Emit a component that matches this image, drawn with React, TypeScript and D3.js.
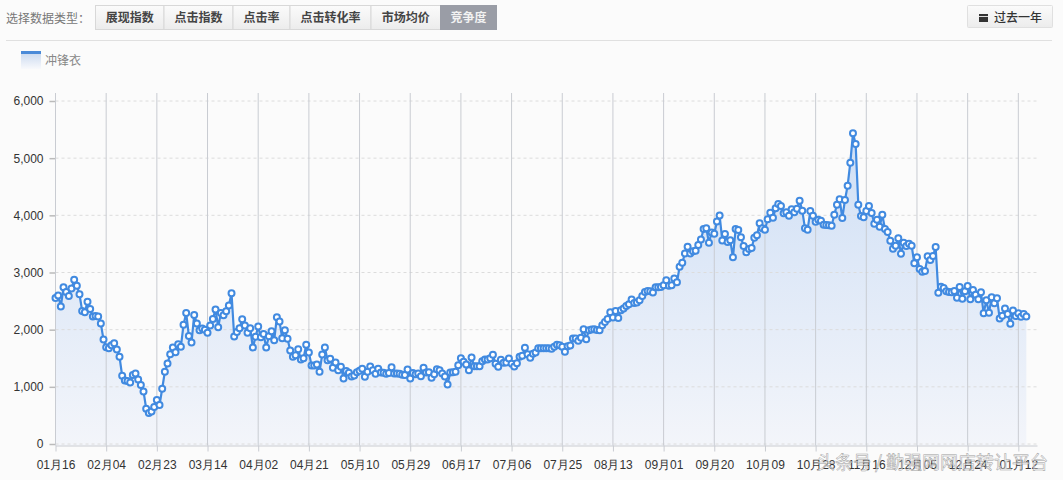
import { useEffect, useRef } from "react";
import * as d3 from "d3";

const tabs = ["展现指数", "点击指数", "点击率", "点击转化率", "市场均价", "竞争度"];
const tabEdges = [96, 164.5, 233.5, 290.5, 371.5, 441, 497];
const seriesName = "冲锋衣";
const yTicks = [0, 1000, 2000, 3000, 4000, 5000, 6000];
const xLabels = [
  "01月16", "02月04", "02月23", "03月14", "04月02", "04月21", "05月10",
  "05月29", "06月17", "07月06", "07月25", "08月13", "09月01", "09月20",
  "10月09", "10月28", "11月16", "12月05", "12月24", "01月12",
];
const labelStep = 19; // one label every 19 days

// daily values
const values = [
  2555, 2596, 2404, 2741, 2660, 2590, 2718, 2875, 2770, 2620,
  2328, 2305, 2490, 2363, 2229, 2240, 2229, 2107, 1827, 1694,
  1676, 1729, 1763, 1653, 1525, 1193, 1112, 1100, 1077, 1205,
  1234, 1129, 1030, 920, 617, 541, 570, 646, 768, 681,
  966, 1263, 1408, 1571, 1688, 1606, 1746, 1700, 2084, 2293,
  1891, 1775, 2258, 2107, 1990, 2020, 2000, 1944, 2072, 2188,
  2351, 2043, 2293, 2252, 2322, 2421, 2636, 1880, 1961, 2025,
  2182, 2072, 1944, 2025, 1688, 1874, 2054, 1868, 1926, 1688,
  1886, 1973, 1816, 2217, 2142, 1851, 1990, 1839, 1635, 1525,
  1554, 1659, 1478, 1500, 1734, 1600, 1373, 1373, 1390, 1263,
  1565, 1688, 1467, 1490, 1333, 1426, 1292, 1350, 1146, 1275,
  1245, 1181, 1199, 1257, 1280, 1315, 1176, 1263, 1356, 1292,
  1228, 1315, 1251, 1245, 1228, 1240, 1344, 1234, 1234, 1228,
  1210, 1205, 1304, 1146, 1240, 1222, 1234, 1187, 1333, 1251,
  1257, 1158, 1222, 1309, 1292, 1234, 1181, 1042, 1251, 1257,
  1263, 1379, 1501, 1437, 1390, 1292, 1513, 1362, 1362, 1362,
  1449, 1478, 1478, 1501, 1560, 1403, 1350, 1472, 1420, 1426,
  1496, 1403, 1356, 1414, 1525, 1542, 1682, 1571, 1507, 1577,
  1600, 1676, 1676, 1676, 1676, 1676, 1665, 1699, 1734, 1728,
  1699, 1612, 1711, 1722, 1845, 1845, 1804, 1857, 2008, 1833,
  1990, 2002, 2008, 1996, 1990, 2078, 2136, 2188, 2305, 2212,
  2328, 2206, 2340, 2369, 2415, 2444, 2526, 2468, 2474, 2514,
  2590, 2660, 2677, 2671, 2648, 2741, 2741, 2747, 2776, 2863,
  2770, 2776, 2893, 2828, 3100, 3170, 3334, 3450, 3334, 3370,
  3380, 3479, 3579, 3759, 3776, 3520, 3700, 3677, 3893, 3998,
  3561, 3674, 3534, 3563, 3265, 3761, 3743, 3615, 3464, 3353,
  3411, 3429, 3609, 3650, 3860, 3773, 3749, 3930, 4047, 3959,
  4122, 4198, 4163, 4035, 4052, 3994, 4105, 4052, 4117, 4257,
  4082, 3773, 3749, 4076, 3994, 3889, 3924, 3907, 3837, 3831,
  3825, 3819, 4012, 4187, 4280, 3953, 4268, 4519, 4921, 5434,
  5248, 4187, 3988, 3965, 4076, 4163, 4041, 3854, 3924, 3802,
  4012, 3761, 3708, 3557, 3417, 3470, 3598, 3330, 3522, 3464,
  3504, 3470, 3160, 3265, 3061, 3015, 3026, 3283, 3219, 3289,
  3446, 2647, 2752, 2729, 2671, 2659, 2653, 2677, 2560, 2747,
  2543, 2671, 2764, 2531, 2694, 2612, 2531, 2653, 2285, 2513,
  2297, 2566, 2460, 2548, 2197, 2243, 2372, 2272, 2103, 2337,
  2238, 2285, 2226, 2272, 2232,
];

const W = 1063;
const H = 480;
const CJK = "'Noto Sans CJK SC', sans-serif";
const LATIN = "'Liberation Sans', Arial, sans-serif";

export default function App() {
  const ref = useRef<SVGSVGElement>(null);

  useEffect(() => {
    if (!ref.current) return;
    const svg = d3.select(ref.current);
    svg.selectAll("*").remove();

    const x = d3.scaleLinear().domain([0, 368]).range([55.5, 1037]);
    const y = d3.scaleLinear().domain([0, 6000]).range([444, 101]);
    const top = 93;
    const bottom = 445.5;

    const defs = svg.append("defs");
    const areaGrad = defs.append("linearGradient").attr("id", "areaFill")
      .attr("gradientUnits", "userSpaceOnUse")
      .attr("x1", 0).attr("x2", 0).attr("y1", 134).attr("y2", bottom);
    areaGrad.append("stop").attr("offset", "0").attr("stop-color", "#cfdff5");
    areaGrad.append("stop").attr("offset", "1").attr("stop-color", "#f3f5fa");

    const btnGrad = defs.append("linearGradient").attr("id", "btnFill")
      .attr("x1", 0).attr("x2", 0).attr("y1", 0).attr("y2", 1);
    btnGrad.append("stop").attr("offset", "0").attr("stop-color", "#fbfbfb");
    btnGrad.append("stop").attr("offset", "1").attr("stop-color", "#ececec");

    const legendGrad = defs.append("linearGradient").attr("id", "legendFill")
      .attr("x1", 0).attr("x2", 0).attr("y1", 0).attr("y2", 1);
    legendGrad.append("stop").attr("offset", "0").attr("stop-color", "#c5d6ee");
    legendGrad.append("stop").attr("offset", "1").attr("stop-color", "#f8f9fc");

    svg.append("rect").attr("width", W).attr("height", H).attr("fill", "#fbfbfb");

    // top toolbar
    svg.append("text").attr("x", 6).attr("y", 22.5)
      .attr("font-family", CJK).attr("font-size", 12).attr("fill", "#777")
      .text("选择数据类型：");

    tabs.forEach((t, i) => {
      const x0 = tabEdges[i];
      const x1 = tabEdges[i + 1];
      const active = i === tabs.length - 1;
      svg.append("rect")
        .attr("x", x0 - 0.5).attr("y", 5.5).attr("width", x1 - x0).attr("height", 24)
        .attr("fill", active ? "#9a9da6" : "url(#btnFill)")
        .attr("stroke", active ? "#9a9da6" : "#d8d8d8");
      svg.append("text")
        .attr("x", (x0 + x1) / 2 - 0.5).attr("y", 22)
        .attr("text-anchor", "middle")
        .attr("font-family", CJK).attr("font-size", 12).attr("font-weight", 700)
        .attr("fill", active ? "#f2f2f2" : "#444")
        .text(t);
    });

    svg.append("rect")
      .attr("x", 967.5).attr("y", 5.5).attr("width", 85).attr("height", 22).attr("rx", 1)
      .attr("fill", "url(#btnFill)").attr("stroke", "#e0e0e0");
    svg.append("rect").attr("x", 979).attr("y", 14).attr("width", 9).attr("height", 8).attr("fill", "#333");
    svg.append("rect").attr("x", 979).attr("y", 16).attr("width", 9).attr("height", 1).attr("fill", "#ddd");
    svg.append("text").attr("x", 994).attr("y", 22)
      .attr("font-family", CJK).attr("font-size", 12).attr("font-weight", 500).attr("fill", "#333")
      .text("过去一年");

    svg.append("line")
      .attr("x1", 6).attr("x2", 1052).attr("y1", 40.5).attr("y2", 40.5)
      .attr("stroke", "#e0e0e0");

    // legend
    svg.append("rect").attr("x", 21).attr("y", 51).attr("width", 20).attr("height", 18).attr("fill", "url(#legendFill)");
    svg.append("rect").attr("x", 21).attr("y", 51).attr("width", 20).attr("height", 3).attr("fill", "#4a8ad8");
    svg.append("text").attr("x", 45).attr("y", 65)
      .attr("font-family", CJK).attr("font-size", 12).attr("fill", "#888")
      .text(seriesName);

    // area first, grid runs over it
    const area = d3.area<number>()
      .x((_, i) => x(i)).y0(bottom).y1((d) => y(d));
    svg.append("path").attr("d", area(values)).attr("fill", "url(#areaFill)");

    // horizontal dashed grid + y axis
    const yAxis = svg.append("g").attr("transform", "translate(55.5,0)")
      .call(d3.axisLeft(y).tickValues(yTicks).tickFormat(d3.format(",")).tickSize(6).tickPadding(6));
    yAxis.select(".domain").remove();
    yAxis.selectAll(".tick line").attr("stroke", "#bbb").attr("stroke-width", 1.5);
    yAxis.selectAll("text")
      .attr("font-family", LATIN).attr("font-size", 12).attr("fill", "#333");

    svg.append("g").selectAll("line")
      .data(yTicks)
      .join("line")
      .attr("x1", 55.5).attr("x2", 1037)
      .attr("y1", (d) => y(d)).attr("y2", (d) => y(d))
      .attr("stroke", "#dcdcdc").attr("stroke-dasharray", "3,3");

    // vertical grid
    const tickIdx = xLabels.map((_, i) => i * labelStep);
    svg.append("g").selectAll("line")
      .data(tickIdx)
      .join("line")
      .attr("x1", (d) => x(d)).attr("x2", (d) => x(d))
      .attr("y1", top).attr("y2", bottom)
      .attr("stroke", "#c9ccd2");

    const xAxis = svg.append("g").attr("transform", `translate(0,${bottom})`)
      .call(d3.axisBottom(x).tickValues(tickIdx)
        .tickFormat((_, i) => xLabels[i]).tickSize(6).tickPadding(9).tickSizeOuter(0));
    xAxis.select(".domain").attr("stroke", "#c9ccd2");
    xAxis.selectAll(".tick line").attr("stroke", "#c9ccd2");
    xAxis.selectAll("text")
      .attr("font-family", LATIN).attr("font-size", 12).attr("fill", "#333");

    // line + markers
    const line = d3.line<number>().x((_, i) => x(i)).y((d) => y(d));
    svg.append("path").attr("d", line(values))
      .attr("fill", "none").attr("stroke", "#418ae0").attr("stroke-width", 2.2);

    svg.append("g").selectAll("circle")
      .data(values)
      .join("circle")
      .attr("cx", (_, i) => x(i))
      .attr("cy", (d) => y(d))
      .attr("r", 3)
      .attr("fill", "#fff")
      .attr("stroke", "#418ae0")
      .attr("stroke-width", 2);

    // site watermark
    svg.append("text").attr("x", 817).attr("y", 469)
      .attr("font-family", CJK).attr("font-size", 18)
      .attr("fill", "#ffffff").attr("fill-opacity", 0.55)
      .attr("stroke", "#a0a0a0").attr("stroke-width", 0.5)
      .text("头条号 / 勤强网网店转让平台");
  }, []);

  return (
    <svg
      ref={ref}
      width={W}
      height={H}
      style={{ position: "absolute", left: 0, top: 0, display: "block" }}
    />
  );
}
